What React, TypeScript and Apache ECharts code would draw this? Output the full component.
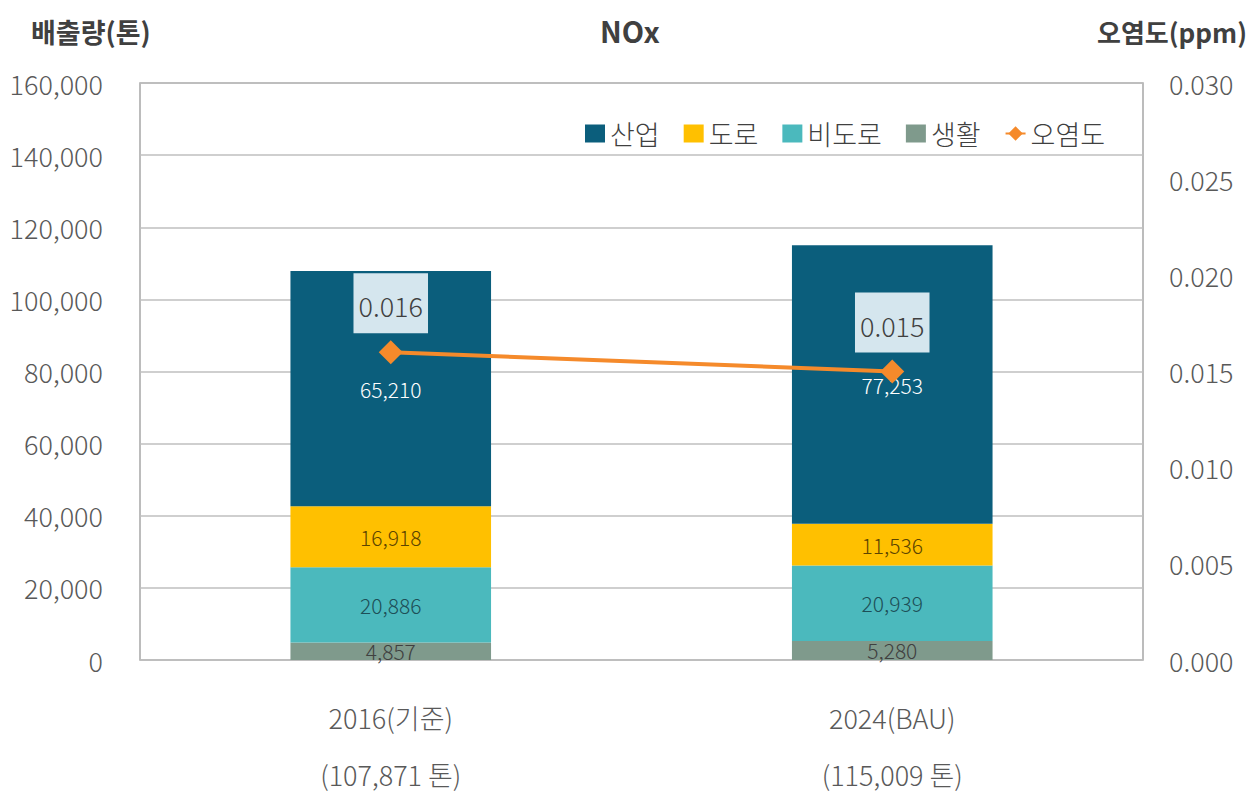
import React, { useEffect, useRef } from "react";
import * as echarts from "echarts";

const categories = ["2016(기준)", "2024(BAU)"];
const totals = ["107,871", "115,009"];
const industry = [65210, 77253];
const road = [16918, 11536];
const nonRoad = [20886, 20939];
const living = [4857, 5280];
const pollution = [0.016, 0.015];

const FONT = "'Noto Sans CJK KR', 'Noto Sans', sans-serif";
const fmt = (v: number) => v.toLocaleString("en-US");

export default function App() {
  const ref = useRef<HTMLDivElement>(null);
  useEffect(() => {
    if (!ref.current) return;
    const chart = echarts.init(ref.current, undefined, { renderer: "svg" });
    const barLabel = (color: string) => ({
      show: true,
      position: "inside" as const,
      color,
      fontSize: 21,
      fontWeight: 300,
      fontFamily: FONT,
      formatter: (p: any) => fmt(p.value),
    });
    chart.setOption({
      animation: false,
      textStyle: { fontFamily: FONT },
      title: [
        { text: "NOx", left: 625, top: 10, textAlign: "center", textStyle: { fontSize: 29, fontWeight: "bold", color: "#404040", fontFamily: FONT } },
        { text: "배출량(톤)", left: 26, top: 13, textStyle: { fontSize: 27, fontWeight: "bold", color: "#404040", fontFamily: FONT } },
        { text: "오염도(ppm)", left: 1092, top: 13, textStyle: { fontSize: 26, fontWeight: "bold", color: "#404040", fontFamily: FONT } },
      ],
      legend: {
        left: 580,
        top: 115,
        itemWidth: 20,
        itemHeight: 18,
        itemGap: 24,
        textStyle: { fontSize: 27, fontWeight: 300, color: "#404040", fontFamily: FONT },
        data: [
          { name: "산업", icon: "rect" },
          { name: "도로", icon: "rect" },
          { name: "비도로", icon: "rect" },
          { name: "생활", icon: "rect" },
          { name: "오염도" },
        ],
      },
      grid: { left: 140, right: 113, top: 83, bottom: 135, show: true, borderColor: "#a6a6a6", borderWidth: 1.5, outerBoundsMode: "none", containLabel: false },
      xAxis: {
        type: "category",
        data: categories,
        axisLine: { show: false },
        axisTick: { show: false },
        axisLabel: {
          margin: 29,
          fontSize: 27,
          fontWeight: 300,
          lineHeight: 57,
          color: "#595959",
          fontFamily: FONT,
          formatter: (v: string, i: number) => `${v}\n(${totals[i]} 톤)`,
        },
      },
      yAxis: [
        {
          type: "value",
          min: 0,
          max: 160000,
          interval: 20000,
          axisLine: { show: false },
          axisTick: { show: false },
          splitLine: { lineStyle: { color: "#bfbfbf", width: 1.5 } },
          axisLabel: { margin: 37, fontSize: 27, fontWeight: 300, color: "#595959", fontFamily: FONT, formatter: (v: number) => fmt(v) },
        },
        {
          type: "value",
          min: 0,
          max: 0.03,
          interval: 0.005,
          axisLine: { show: false },
          axisTick: { show: false },
          splitLine: { show: false },
          axisLabel: { margin: 26, fontSize: 27, fontWeight: 300, color: "#595959", fontFamily: FONT, formatter: (v: number) => v.toFixed(3) },
        },
      ],
      series: [
        { name: "생활", type: "bar", stack: "a", barWidth: "40%", data: living, itemStyle: { color: "#7f9a8c" }, label: barLabel("#404040") },
        { name: "비도로", type: "bar", stack: "a", data: nonRoad, itemStyle: { color: "#4bb9bd" }, label: barLabel("#1d4f57") },
        { name: "도로", type: "bar", stack: "a", data: road, itemStyle: { color: "#ffc000" }, label: barLabel("#5b4400") },
        { name: "산업", type: "bar", stack: "a", data: industry, itemStyle: { color: "#0b5e7c" }, label: barLabel("#ffffff") },
        {
          name: "오염도",
          type: "line",
          yAxisIndex: 1,
          data: pollution,
          symbol: "diamond",
          symbolSize: 24,
          z: 10,
          lineStyle: { color: "#f58a2b", width: 4 },
          itemStyle: { color: "#f58a2b" },
          label: {
            show: true,
            position: "top",
            distance: 7,
            fontSize: 27,
            fontWeight: 300,
            color: "#404040",
            fontFamily: FONT,
            backgroundColor: "#d5e6ee",
            padding: [19, 5, 14, 5],
            formatter: (p: any) => p.value.toFixed(3),
          },
        },
      ],
    });
    return () => chart.dispose();
  }, []);
  return <div ref={ref} style={{ width: 1256, height: 795, position: "absolute", left: 0, top: 0, background: "#fff" }} />;
}
